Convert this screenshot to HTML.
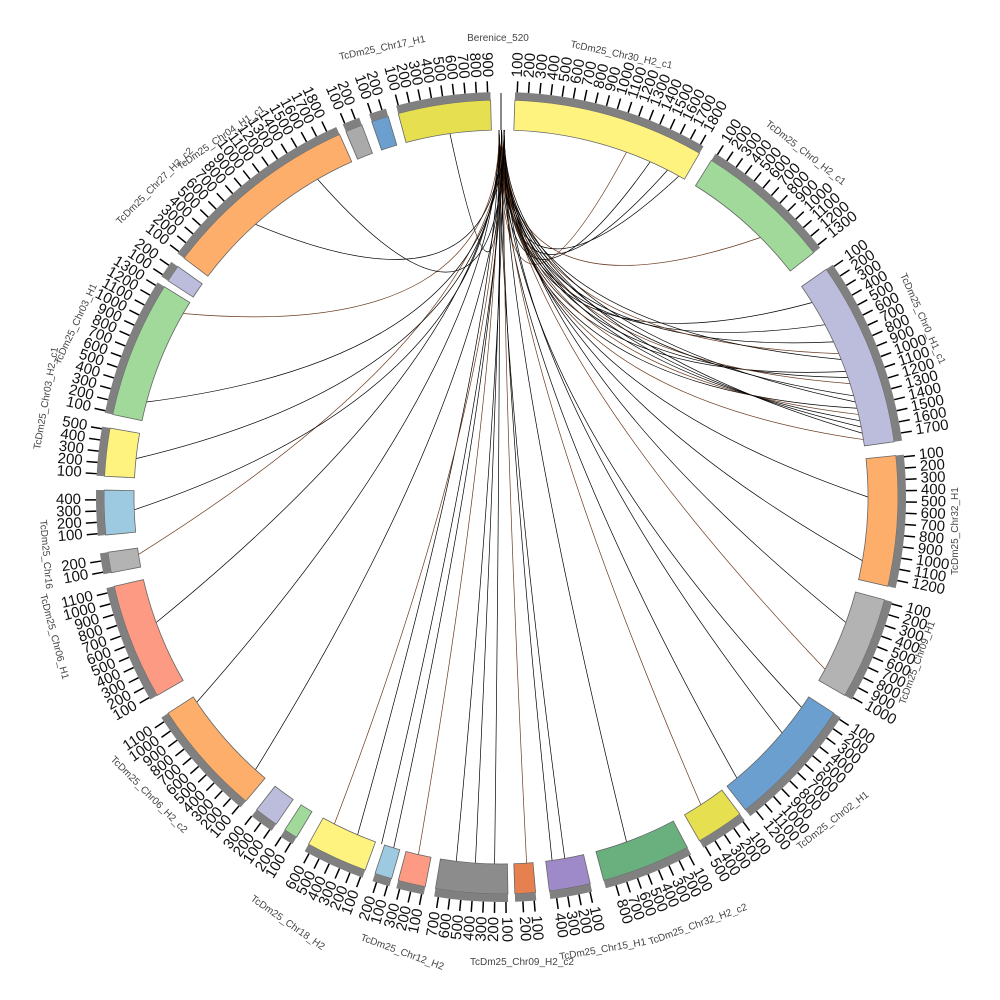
<!DOCTYPE html>
<html><head><meta charset="utf-8"><style>body{margin:0;background:#fff}svg{display:block}text{font-family:"Liberation Sans",sans-serif}</style></head>
<body>
<svg id="s" width="1000" height="1000" viewBox="0 0 1000 1000">
<g id="links" fill="none" stroke="#000" stroke-width="0.8"></g>
<g id="ideo"></g>
<g id="ticks"></g>
<g id="labs" font-size="10" fill="#444">
<text x="498" y="41" text-anchor="middle">Berenice_520</text>
<text x="570" y="47" transform="rotate(12 570 47)">TcDm25_Chr30_H2_c1</text>
<text x="765" y="125" transform="rotate(38 765 125)">TcDm25_Chr0_H2_c1</text>
<text x="900" y="275" transform="rotate(66 900 275)">TcDm25_Chr0_H1_c1</text>
<text x="958" y="575" transform="rotate(-90 958 575)">TcDm25_Chr32_H1</text>
<text x="905" y="705" transform="rotate(-70 905 705)">TcDm25_Chr09_H1</text>
<text x="800" y="850" transform="rotate(-38 800 850)">TcDm25_Chr02_H1</text>
<text x="650" y="945" transform="rotate(-20 650 945)">TcDm25_Chr32_H2_c2</text>
<text x="560" y="960" transform="rotate(-10 560 960)">TcDm25_Chr15_H1</text>
<text x="470" y="965">TcDm25_Chr09_H2_c2</text>
<text x="360" y="940" transform="rotate(20 360 940)">TcDm25_Chr12_H2</text>
<text x="250" y="900" transform="rotate(35 250 900)">TcDm25_Chr18_H2</text>
<text x="110" y="760" transform="rotate(45 110 760)">TcDm25_Chr06_H2_c2</text>
<text x="40" y="595" transform="rotate(75 40 595)">TcDm25_Chr06_H1</text>
<text x="40" y="520" transform="rotate(85 40 520)">TcDm25_Chr16</text>
<text x="40" y="450" transform="rotate(-80 40 450)">TcDm25_Chr03_H2_c1</text>
<text x="60" y="365" transform="rotate(-65 60 365)">TcDm25_Chr03_H1</text>
<text x="120" y="225" transform="rotate(-45 120 225)">TcDm25_Chr27_H2_c2</text>
<text x="180" y="170" transform="rotate(-35 180 170)">TcDm25_Chr04_H1_c1</text>
<text x="340" y="60" transform="rotate(-12 340 60)">TcDm25_Chr17_H1</text>
</g>
</svg>
<script>
var NS="http://www.w3.org/2000/svg",cx=501,cy=497;
function P(a,r){a=a*Math.PI/180;return [cx+r*Math.sin(a),cy-r*Math.cos(a)];}
function arc(a1,a2,r1,r2){var p1=P(a1,r2),p2=P(a2,r2),p3=P(a2,r1),p4=P(a1,r1),l=(a2-a1)>180?1:0;
return "M"+p1+"A"+r2+","+r2+" 0 "+l+" 1 "+p2+"L"+p3+"A"+r1+","+r1+" 0 "+l+" 0 "+p4+"Z";}
function el(t,at,par){var e=document.createElementNS(NS,t);for(var k in at)e.setAttribute(k,at[k]);document.getElementById(par).appendChild(e);return e;}
var segs=[[359.6,0.4,"#999"],[2,30,"#fff380"],[32,52,"#a1d99b"],[55,82,"#bcbddc"],[84,103,"#fdae6b"],[105,120,"#b3b3b3"],[123,142,"#6a9fcf"],[143,150,"#e6e050"],[152,165,"#6ab07f"],[167,173,"#9e8ac8"],[175,178,"#e6804e"],[179,189.5,"#8c8c8c"],[191,195,"#fc9a84"],[196,198.5,"#9ecae1"],[200,209,"#fff380"],[211,213,"#a1d99b"],[214.5,218,"#bcbddc"],[220,237,"#fdae6b"],[240,257,"#fc9a84"],[259,262,"#b3b3b3"],[264.5,271,"#9ecae1"],[273,280,"#fff380"],[282,302,"#a1d99b"],[303,305.5,"#bcbddc"],[307,336,"#fdae6b"],[337,339.5,"#aaa"],[341,343.5,"#6a9fcf"],[345,358.5,"#e6e050"]];
segs.forEach(function(s,i){if(i==0){var a=P(0,367),b=P(0,404);el("line",{x1:a[0],y1:a[1],x2:b[0],y2:b[1],stroke:"#888","stroke-width":2},"ideo");return;}
el("path",{d:arc(s[0],s[1],367,397),fill:s[2],stroke:"#666","stroke-width":0.8},"ideo");
el("path",{d:arc(s[0],s[1],397,405),fill:"#808080"},"ideo");
var step=1.6,n=0;for(var a=s[0]+0.3;a<=s[1];a+=step){n++;var p=P(a,405),q=P(a,416);el("line",{x1:p[0],y1:p[1],x2:q[0],y2:q[1],stroke:"#000","stroke-width":1.5},"ticks");
var t=P(a,420),rot=a-90;if(a>180)rot=a+90;var tx=el("text",{x:t[0],y:t[1],"font-size":15,fill:"#111","text-anchor":a>180?"end":"start","dominant-baseline":"middle",transform:"rotate("+rot+" "+t[0]+" "+t[1]+")"},"ticks");tx.textContent=(n*100)+"";}});
var tg=[20,24,27,29,45,58,62,65,67,68,70,71,72,74,75,76,77,78,79,80,81,90,100,110,118,125,130,140,147,160,170,172,176,181,184,187,193,197,199,203,207,222,236,250,261,268,276,285,300,318,330,352];
tg.forEach(function(a,i){var s=P((i%3)*0.4-0.3,367),t=P(a,367),c=P(0,110+(i%5)*15);
el("path",{d:"M"+s+"Q"+c+" "+t,stroke:i%4==0?"#6b3a1e":"#000","stroke-width":0.7},"links");});
</script>
</body></html>
